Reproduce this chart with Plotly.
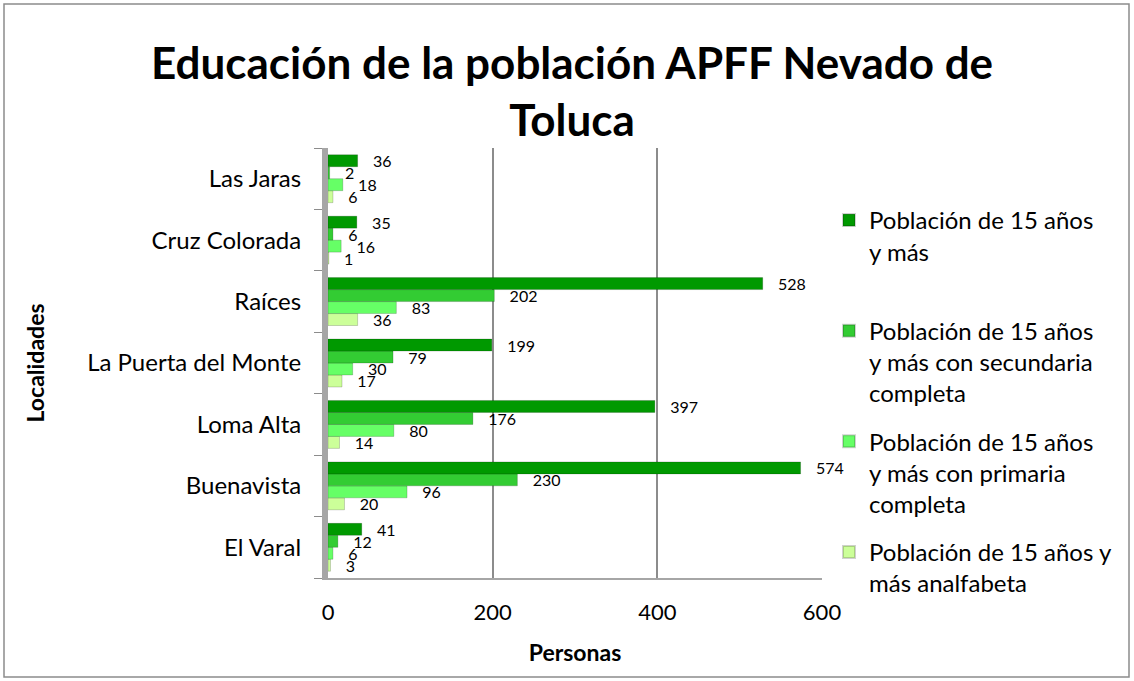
import plotly.graph_objects as go

categories = ["El Varal", "Buenavista", "Loma Alta", "La Puerta del Monte", "Raíces", "Cruz Colorada", "Las Jaras"]
series_names = [
    "Población de 15 años<br>y más<br> ",
    "Población de 15 años<br>y más con secundaria<br>completa",
    "Población de 15 años<br>y más con primaria<br>completa",
    "Población de 15 años y<br>más analfabeta",
]
total_15 = [41, 574, 397, 199, 528, 35, 36]
secundaria = [12, 230, 176, 79, 202, 6, 2]
primaria = [6, 96, 80, 30, 83, 16, 18]
analfabeta = [3, 20, 14, 17, 36, 1, 6]
colors = ["#009900", "#33CC33", "#66FF66", "#CCFF99"]

W, H = 1134, 681
ml, mr, mt, mb = 328, 312, 148, 103
pw = W - ml - mr
ph = H - mt - mb


def px_x(p):
    return (p - ml) / pw


def px_y(p):
    return (mt + ph - p) / ph


fig = go.Figure()
data = [total_15, secundaria, primaria, analfabeta]
for i in reversed(range(4)):
    fig.add_trace(go.Bar(
        y=categories, x=data[i], orientation="h", name=series_names[i],
        legendgroup=f"g{i}", legendrank=i + 1,
        marker=dict(color=colors[i], line=dict(color="rgba(0,0,0,0.18)", width=1)),
        text=data[i], texttemplate="\u00a0\u00a0\u00a0%{x}", textposition="outside",
        textfont=dict(size=16, color="#000000", family="Lato"), cliponaxis=False,
        constraintext="none",
    ))

fig.update_layout(
    width=W, height=H,
    barmode="group", bargap=0.22, bargroupgap=0,
    paper_bgcolor="white", plot_bgcolor="white",
    margin=dict(l=ml, r=mr, t=mt, b=mb),
    font=dict(family="Lato", color="#000000"),
    legend=dict(
        x=px_x(829), xanchor="left", y=px_y(198), yanchor="top",
        font=dict(size=24, family="Lato"), tracegroupgap=14, itemsizing="constant",
        traceorder="grouped", valign="top", bgcolor="rgba(0,0,0,0)",
    ),
    showlegend=True,
)
fig.add_annotation(
    text="<b>Educación de la población APFF Nevado de<br>Toluca</b>",
    xref="paper", yref="paper", x=px_x(572), y=px_y(34), xanchor="center", yanchor="top",
    showarrow=False, font=dict(size=44, family="Lato", color="#000000"),
)
fig.update_xaxes(
    range=[0, 600], tickvals=[0, 200, 400, 600], showgrid=True, gridcolor="#8C8C8C", gridwidth=2,
    zeroline=False, showline=True, linecolor="#A6A6A6", linewidth=2,
    tickfont=dict(size=22), ticks="", ticklabelstandoff=14,
    title=dict(text="<b>Personas</b>", font=dict(size=23), standoff=20),
)
fig.update_yaxes(
    categoryorder="array", categoryarray=categories, showgrid=False,
    showline=True, linecolor="#A6A6A6", linewidth=6, ticks="outside", tickson="boundaries",
    ticklen=8, tickcolor="#8C8C8C", tickfont=dict(size=24), ticklabelstandoff=16,
    title=dict(text="<b>Localidades</b>", font=dict(size=23), standoff=38),
)
fig.add_shape(type="rect", xref="paper", yref="paper",
              x0=px_x(4), x1=px_x(W - 5), y0=px_y(H - 4), y1=px_y(4),
              line=dict(color="#8C8C8C", width=1.5), fillcolor="rgba(0,0,0,0)", layer="below")

fig.write_html("out.html", config={"displayModeBar": False},
               post_script="document.body.style.margin='0';document.body.style.overflow='hidden';")
